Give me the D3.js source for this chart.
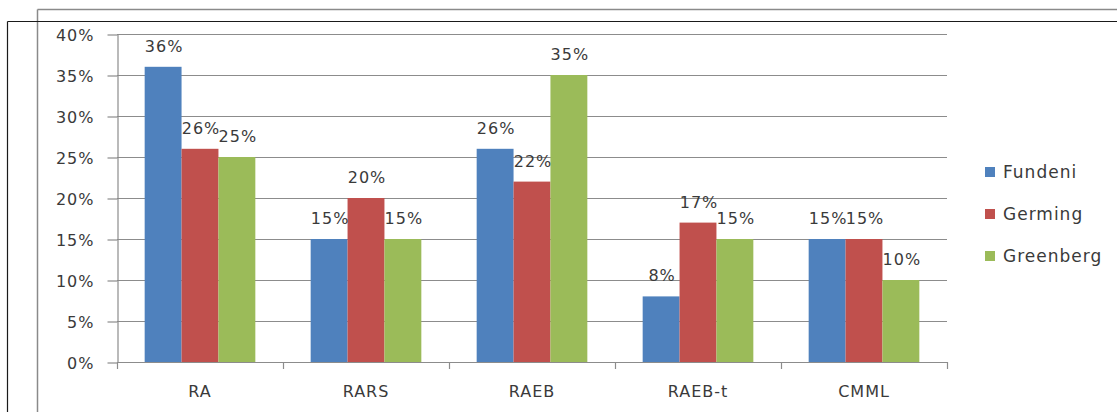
<!DOCTYPE html>
<html>
<head>
<meta charset="utf-8">
<script src="https://cdn.jsdelivr.net/npm/d3@7"></script>
<style>
  html, body { margin: 0; padding: 0; background: #fff; }
  svg { display: block; }
  text { font-family: "DejaVu Sans", sans-serif; fill: #3a3a3a; letter-spacing: 1px; }
</style>
</head>
<body>
<svg id="chart" width="1117" height="412"></svg>
<script>
// Subtype distribution by study
const categories = ["RA", "RARS", "RAEB", "RAEB-t", "CMML"];
const seriesNames = ["Fundeni", "Germing", "Greenberg"];
const fundeni   = [0.36, 0.15, 0.26, 0.08, 0.15];
const germing   = [0.26, 0.20, 0.22, 0.17, 0.15];
const greenberg = [0.25, 0.15, 0.35, 0.15, 0.10];
const seriesValues = [fundeni, germing, greenberg];
const yTicks = [0, 0.05, 0.10, 0.15, 0.20, 0.25, 0.30, 0.35, 0.40];
const colors = ["#4F81BD", "#C0504D", "#9BBB59"];

const svg = d3.select("#chart");

// outer frames
svg.append("line").attr("x1", 37.5).attr("x2", 1117).attr("y1", 9.5).attr("y2", 9.5)
  .attr("stroke", "#8a8a8a").attr("stroke-width", 1.5);
svg.append("line").attr("x1", 37.5).attr("x2", 37.5).attr("y1", 9.5).attr("y2", 412)
  .attr("stroke", "#8a8a8a").attr("stroke-width", 1.5);
svg.append("line").attr("x1", 7.5).attr("x2", 1117).attr("y1", 21.5).attr("y2", 21.5)
  .attr("stroke", "#1a1a1a").attr("stroke-width", 1.2);
svg.append("line").attr("x1", 7.5).attr("x2", 7.5).attr("y1", 21.5).attr("y2", 412)
  .attr("stroke", "#1a1a1a").attr("stroke-width", 1.2);

const plot = { left: 117, right: 947, top: 34, bottom: 362 };

const x = d3.scaleBand().domain(categories).range([plot.left, plot.right]).padding(0);
const xs = d3.scaleBand().domain(seriesNames).range([0, x.bandwidth()])
  .paddingInner(0).paddingOuter(0.75);
const y = d3.scaleLinear().domain([0, 0.4]).range([plot.bottom, plot.top]);
const pct = d3.format(".0%");

// gridlines
svg.append("g").selectAll("line").data(yTicks).join("line")
  .attr("x1", plot.left).attr("x2", plot.right)
  .attr("y1", d => Math.round(y(d)) + 0.5).attr("y2", d => Math.round(y(d)) + 0.5)
  .attr("stroke", "#8c8c8c").attr("stroke-width", 1.2);

// y axis
const yAxis = svg.append("g").attr("transform", `translate(${plot.left + 0.5},0.5)`)
  .call(d3.axisLeft(y).tickValues(yTicks).tickFormat(pct).tickSize(10).tickSizeOuter(0).tickPadding(13));
yAxis.select(".domain").attr("stroke", "#8c8c8c").attr("stroke-width", 1.2);
yAxis.selectAll(".tick line").attr("stroke", "#8c8c8c").attr("stroke-width", 1.2);
yAxis.selectAll("text").attr("font-size", 16).attr("fill", "#3a3a3a")
  .style("font-family", "DejaVu Sans").attr("dy", "0.36em");

// bars
const groups = svg.append("g").selectAll("g").data(categories).join("g")
  .attr("transform", d => `translate(${x(d)},0)`);
groups.selectAll("rect")
  .data((c, i) => seriesNames.map((s, j) => ({ s, j, v: seriesValues[j][i] })))
  .join("rect")
  .attr("x", d => xs(d.s)).attr("width", xs.bandwidth())
  .attr("y", d => y(d.v)).attr("height", d => y(0) - y(d.v))
  .attr("fill", d => colors[d.j]);

// value labels
groups.selectAll("text.val")
  .data((c, i) => seriesNames.map((s, j) => ({ s, j, v: seriesValues[j][i] })))
  .join("text").attr("class", "val")
  .attr("x", d => xs(d.s) + xs.bandwidth() / 2 + 1)
  .attr("y", d => y(d.v) - 15)
  .attr("text-anchor", "middle").attr("font-size", 16)
  .text(d => pct(d.v));

// x axis line and boundary ticks
svg.append("line").attr("x1", plot.left).attr("x2", plot.right)
  .attr("y1", plot.bottom + 0.5).attr("y2", plot.bottom + 0.5)
  .attr("stroke", "#8c8c8c").attr("stroke-width", 1.2);
const bounds = categories.map(c => x(c)).concat([x(categories[categories.length - 1]) + x.bandwidth()]);
svg.append("g").selectAll("line").data(bounds).join("line")
  .attr("x1", d => Math.round(d) + 0.5).attr("x2", d => Math.round(d) + 0.5)
  .attr("y1", plot.bottom).attr("y2", plot.bottom + 7)
  .attr("stroke", "#8c8c8c").attr("stroke-width", 1.2);

const xAxis = svg.append("g").attr("transform", `translate(0,${plot.bottom})`)
  .call(d3.axisBottom(x).tickSize(0).tickPadding(24));
xAxis.select(".domain").remove();
xAxis.selectAll("text").attr("font-size", 16).attr("fill", "#3a3a3a")
  .style("font-family", "DejaVu Sans");

// legend
const legend = svg.append("g").selectAll("g").data(seriesNames).join("g")
  .attr("transform", (d, i) => `translate(985,${172 + i * 42})`);
legend.append("rect").attr("x", 0).attr("y", -5).attr("width", 10).attr("height", 10)
  .attr("fill", (d, i) => colors[i]);
legend.append("text").attr("x", 18).attr("y", 0).attr("dy", "0.36em")
  .attr("font-size", 17).text(d => d);
</script>
</body>
</html>
